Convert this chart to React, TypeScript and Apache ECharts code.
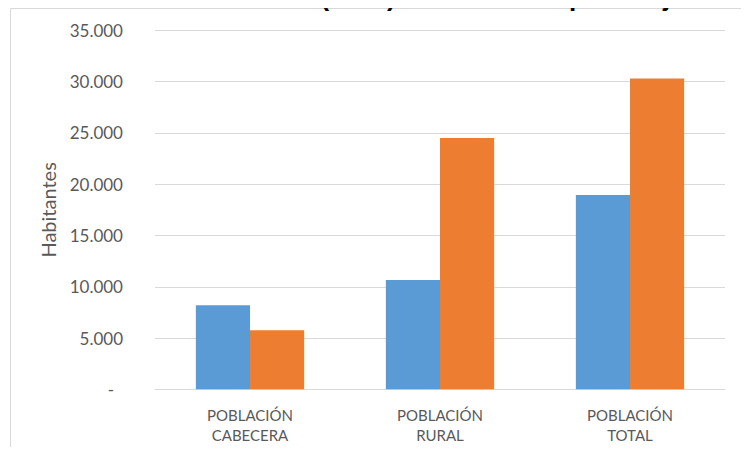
import React, { useEffect, useRef } from "react";
import * as echarts from "echarts";

const categories = ["POBLACIÓN\nCABECERA", "POBLACIÓN\nRURAL", "POBLACIÓN\nTOTAL"];
const seriesA = [8200, 10650, 18950];
const seriesB = [5750, 24500, 30300];
const yTicks = [0, 5000, 10000, 15000, 20000, 25000, 30000, 35000];
const titleText = "Población total estimada (2020) de los municipios Bajo Cauca";
const yAxisName = "Habitantes";

const fmt = (v: number) =>
  v === 0 ? "{z|-}" : v.toString().replace(/\B(?=(\d{3})+(?!\d))/g, ".");

export default function App() {
  const ref = useRef<HTMLDivElement>(null);
  useEffect(() => {
    const chart = echarts.init(ref.current!, undefined, { renderer: "svg" });
    const labelFont = "Lato, 'Open Sans', sans-serif";
    chart.setOption({
      animation: false,
      backgroundColor: "#ffffff",
      graphic: [
        {
          type: "rect",
          shape: { x: 10.5, y: 8.5, width: 800, height: 500 },
          style: { fill: "none", stroke: "#d9d9d9", lineWidth: 1 },
          silent: true,
        },
        {
          type: "group",
          x: 0,
          y: -2.5,
          children: [
            {
              type: "text",
              x: 7,
              y: -0.5,
              style: {
                text: titleText,
                fontFamily: "'Liberation Sans', Arial, sans-serif",
                fontWeight: "bold",
                fontSize: 26,
                fill: "#000000",
                align: "left",
                verticalAlign: "middle",
              },
            },
          ],
        },
      ],
      grid: { left: 155, right: 24, top: 30.4, bottom: 65.7 },
      xAxis: {
        type: "category",
        data: categories,
        axisLine: { show: true, lineStyle: { color: "#d9d9d9", width: 1 } },
        axisTick: { show: false },
        axisLabel: {
          color: "#595959",
          fontFamily: labelFont,
          fontSize: 15,
          lineHeight: 20,
          margin: 16,
        },
      },
      yAxis: {
        type: "value",
        min: 0,
        max: 35000,
        interval: 5000,
        name: yAxisName,
        nameLocation: "middle",
        nameGap: 97,
        nameTextStyle: { color: "#595959", fontFamily: labelFont, fontSize: 20 },
        axisLine: { show: false },
        axisTick: { show: false },
        splitLine: { lineStyle: { color: "#d9d9d9", width: 1 } },
        axisLabel: {
          color: "#595959",
          fontFamily: labelFont,
          fontSize: 17,
          margin: 32,
          formatter: (v: number) => (yTicks.includes(v) ? fmt(v) : ""),
          rich: {
            z: { color: "#595959", fontFamily: labelFont, fontSize: 17, padding: [0, 9, 0, 0] },
          },
        },
      },
      series: [
        {
          type: "bar",
          data: seriesA,
          itemStyle: { color: "#5B9BD5" },
          barGap: "0%",
          barCategoryGap: "43%",
        },
        {
          type: "bar",
          data: seriesB,
          itemStyle: { color: "#ED7D31" },
          barGap: "0%",
          barCategoryGap: "43%",
        },
      ],
    });
    return () => chart.dispose();
  }, []);
  return <div ref={ref} style={{ width: 749, height: 455, margin: -8 }} />;
}
